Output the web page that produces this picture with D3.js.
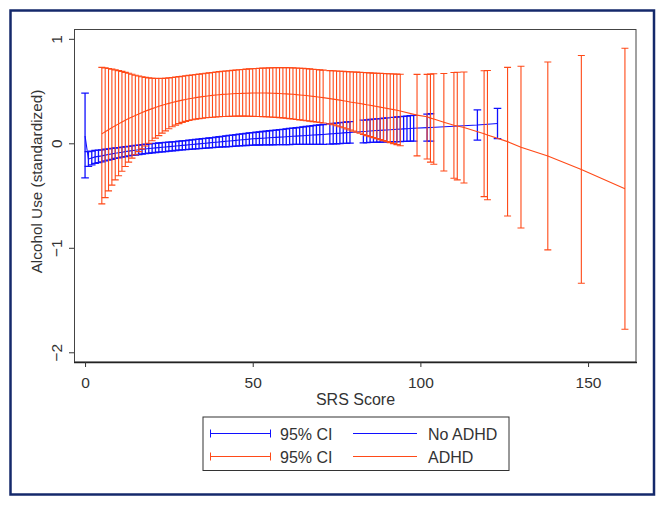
<!DOCTYPE html>
<html><head><meta charset="utf-8">
<script src="https://cdn.jsdelivr.net/npm/d3@7"></script>
<style>
html,body{margin:0;padding:0;background:#fff;}
svg{display:block;font-family:"Liberation Sans",Arial,sans-serif;}
</style></head>
<body>
<svg id="chart" width="664" height="506"></svg>
<script>
// ---------- data ----------
const blueX = [0,1,2,3,4,5,6,7,8,9,10,11,12,13,14,15,16,17,18,19,20,21,22,23,24,25,26,27,28,29,30,31,32,33,34,35,36,37,38,39,40,41,42,43,44,45,46,47,48,49,50,51,52,53,54,55,56,57,58,59,60,61,62,63,64,65,66,67,68,69,70,71,73,74,75,76,77,78,79,83,84,85,86,87,88,89,90,92,93,94,95,96,97,98,102,103,117,123];
const blueMean = [0.07,-0.150,-0.140,-0.130,-0.125,-0.120,-0.113,-0.107,-0.101,-0.095,-0.090,-0.085,-0.080,-0.075,-0.070,-0.066,-0.062,-0.058,-0.054,-0.050,-0.047,-0.044,-0.041,-0.038,-0.035,-0.032,-0.029,-0.026,-0.023,-0.020,-0.017,-0.014,-0.011,-0.008,-0.005,-0.002,0.001,0.004,0.007,0.010,0.013,0.016,0.019,0.022,0.025,0.028,0.031,0.034,0.037,0.040,0.043,0.045,0.047,0.049,0.051,0.053,0.055,0.057,0.059,0.061,0.063,0.065,0.067,0.069,0.071,0.073,0.075,0.077,0.079,0.081,0.083,0.085,0.090,0.092,0.095,0.097,0.100,0.102,0.104,0.113,0.115,0.118,0.120,0.122,0.124,0.126,0.128,0.132,0.134,0.136,0.138,0.140,0.142,0.144,0.150,0.152,0.175,0.190];
const blueLo = [-0.33,-0.220,-0.206,-0.193,-0.185,-0.178,-0.169,-0.161,-0.153,-0.145,-0.139,-0.133,-0.127,-0.121,-0.116,-0.112,-0.107,-0.103,-0.099,-0.095,-0.091,-0.088,-0.085,-0.082,-0.079,-0.075,-0.072,-0.069,-0.066,-0.063,-0.060,-0.058,-0.055,-0.053,-0.050,-0.048,-0.046,-0.043,-0.041,-0.039,-0.037,-0.035,-0.033,-0.031,-0.029,-0.027,-0.025,-0.023,-0.021,-0.019,-0.017,-0.016,-0.016,-0.015,-0.015,-0.014,-0.014,-0.013,-0.013,-0.012,-0.012,-0.012,-0.011,-0.011,-0.011,-0.011,-0.011,-0.011,-0.011,-0.011,-0.011,-0.010,-0.007,-0.006,-0.004,-0.003,-0.001,0.000,0.001,0.005,0.006,0.008,0.009,0.010,0.011,0.012,0.013,0.015,0.016,0.017,0.018,0.019,0.020,0.021,0.020,0.021,0.030,0.045];
const blueHi = [0.48,-0.080,-0.074,-0.067,-0.065,-0.062,-0.057,-0.053,-0.049,-0.045,-0.041,-0.037,-0.033,-0.029,-0.024,-0.020,-0.017,-0.013,-0.009,-0.005,-0.003,0.000,0.003,0.006,0.009,0.011,0.014,0.017,0.020,0.023,0.026,0.030,0.033,0.037,0.040,0.044,0.048,0.051,0.055,0.059,0.063,0.067,0.071,0.075,0.079,0.083,0.087,0.091,0.095,0.099,0.103,0.106,0.110,0.113,0.117,0.120,0.124,0.127,0.131,0.134,0.138,0.142,0.145,0.149,0.153,0.157,0.161,0.165,0.169,0.173,0.177,0.180,0.187,0.190,0.194,0.197,0.201,0.204,0.207,0.221,0.224,0.228,0.231,0.234,0.237,0.240,0.243,0.249,0.252,0.255,0.258,0.261,0.264,0.267,0.280,0.283,0.320,0.335];

const orangeX = [5,6,7,8,9,10,11,12,13,14,15,16,17,18,19,20,21,22,23,24,25,26,27,28,29,30,31,32,33,34,35,36,37,38,39,40,41,42,43,44,45,46,47,48,49,50,51,52,53,54,55,56,57,58,59,60,61,62,63,64,65,66,67,68,69,70,71,73,74,75,76,77,78,79,80,81,82,83,84,85,86,87,88,89,90,91,92,93,94,99,102,103,104,107,110,111,113,119,120,126,130,138,148,161];
const orangeMean = [0.090,0.110,0.130,0.150,0.168,0.186,0.204,0.221,0.237,0.252,0.267,0.281,0.295,0.308,0.320,0.332,0.343,0.354,0.364,0.373,0.382,0.391,0.399,0.406,0.413,0.420,0.426,0.432,0.437,0.442,0.447,0.451,0.455,0.459,0.462,0.465,0.468,0.470,0.472,0.474,0.476,0.477,0.478,0.479,0.480,0.481,0.481,0.481,0.481,0.481,0.480,0.479,0.478,0.477,0.475,0.473,0.471,0.469,0.466,0.463,0.460,0.457,0.453,0.449,0.445,0.441,0.437,0.428,0.423,0.418,0.413,0.408,0.402,0.396,0.391,0.386,0.381,0.375,0.369,0.364,0.358,0.352,0.346,0.340,0.334,0.328,0.322,0.316,0.310,0.270,0.255,0.241,0.232,0.202,0.172,0.165,0.151,0.092,0.079,0.016,-0.037,-0.121,-0.250,-0.435];
const orangeLo = [-0.580,-0.520,-0.455,-0.400,-0.350,-0.310,-0.268,-0.222,-0.180,-0.142,-0.110,-0.080,-0.053,-0.026,0.000,0.025,0.050,0.074,0.097,0.119,0.140,0.158,0.174,0.188,0.200,0.210,0.218,0.225,0.231,0.236,0.240,0.244,0.247,0.250,0.252,0.254,0.256,0.257,0.258,0.259,0.260,0.260,0.260,0.260,0.259,0.258,0.257,0.256,0.255,0.254,0.252,0.250,0.248,0.246,0.243,0.240,0.236,0.232,0.228,0.224,0.220,0.216,0.212,0.208,0.204,0.199,0.195,0.186,0.177,0.168,0.159,0.149,0.138,0.127,0.117,0.106,0.096,0.085,0.074,0.064,0.054,0.045,0.035,0.026,0.016,0.007,-0.003,-0.013,-0.023,-0.120,-0.150,-0.180,-0.200,-0.265,-0.335,-0.350,-0.380,-0.510,-0.540,-0.696,-0.810,-1.020,-1.340,-1.780];
const orangeHi = [0.727,0.722,0.716,0.710,0.703,0.696,0.688,0.679,0.670,0.661,0.652,0.644,0.637,0.631,0.626,0.623,0.621,0.620,0.621,0.623,0.626,0.630,0.634,0.638,0.642,0.646,0.650,0.654,0.658,0.662,0.666,0.670,0.674,0.678,0.682,0.686,0.689,0.692,0.695,0.698,0.701,0.704,0.707,0.710,0.712,0.714,0.716,0.718,0.720,0.721,0.722,0.723,0.724,0.724,0.724,0.724,0.723,0.722,0.721,0.719,0.717,0.715,0.712,0.709,0.706,0.703,0.700,0.696,0.694,0.692,0.690,0.688,0.686,0.685,0.683,0.681,0.679,0.677,0.675,0.674,0.672,0.671,0.669,0.668,0.666,0.665,0.664,0.662,0.661,0.660,0.660,0.662,0.665,0.668,0.678,0.680,0.682,0.695,0.697,0.727,0.737,0.778,0.840,0.910];

const xTicks = [0, 50, 100, 150];
const yTicks = [-2, -1, 0, 1];
const xTitle = "SRS Score";
const yTitle = "Alcohol Use (standardized)";
const legendLabels = ["95% CI", "No ADHD", "95% CI", "ADHD"];

// ---------- styling ----------
const BLUE = "#1010ff", ORANGE = "#ff4a18";
const svg = d3.select("#chart");

const x = d3.scaleLinear().domain([-3, 164.3]).range([75, 636]);
const y = d3.scaleLinear().domain([-2.093, 1.094]).range([362, 29]);

// outer frame
svg.append("rect").attr("x", 10.5).attr("y", 10.5).attr("width", 643.5).attr("height", 484)
  .attr("fill", "none").attr("stroke", "#14296b").attr("stroke-width", 2.5);

// plot region border
svg.append("rect").attr("x", 74.5).attr("y", 29.5).attr("width", 561.5).attr("height", 332.5)
  .attr("fill", "none").attr("stroke", "#444").attr("stroke-width", 1);
svg.append("line").attr("x1", 74).attr("x2", 637).attr("y1", 362.5).attr("y2", 362.5)
  .attr("stroke", "#222").attr("stroke-width", 1.6);

function rcap(g, xs, lo, hi, color, sw, cap) {
  const d = xs.map((v, i) => ({x: v, lo: lo[i], hi: hi[i]}));
  const grp = g.append("g").attr("stroke", color).attr("stroke-width", sw).attr("fill", "none");
  grp.selectAll("path").data(d).join("path")
    .attr("d", p => {
      const px = x(p.x), yl = y(p.lo), yh = y(p.hi);
      return `M${px},${yl}V${yh}M${px - cap},${yh}H${px + cap}M${px - cap},${yl}H${px + cap}`;
    });
}
function fitLine(g, xs, ys, color) {
  const line = d3.line().x(d => x(d[0])).y(d => y(d[1]));
  g.append("path").datum(xs.map((v, i) => [v, ys[i]]))
    .attr("d", line).attr("fill", "none").attr("stroke", color).attr("stroke-width", 1.1);
}

const plot = svg.append("g");
rcap(plot, blueX, blueLo, blueHi, BLUE, 1.3, 3.8);
fitLine(plot, blueX, blueMean, BLUE);
rcap(plot, orangeX, orangeLo, orangeHi, ORANGE, 1.1, 3.5);
fitLine(plot, orangeX, orangeMean, ORANGE);

// axes
const yAxis = svg.append("g").attr("transform", "translate(74,0)")
  .call(d3.axisLeft(y).tickValues(yTicks).tickSize(5).tickFormat(d3.format("d")));
yAxis.select(".domain").remove();
yAxis.selectAll("line").attr("stroke", "#333");
yAxis.selectAll("text")
  .attr("transform", "rotate(-90)").attr("x", 0).attr("y", -12.5).attr("dy", null)
  .attr("text-anchor", "middle").attr("fill", "#333")
  .style("font-size", "15.5px").style("font-family", "'Liberation Sans',Arial,sans-serif");

const xAxis = svg.append("g").attr("transform", "translate(0,362)")
  .call(d3.axisBottom(x).tickValues(xTicks).tickSize(5).tickFormat(d3.format("d")));
xAxis.select(".domain").remove();
xAxis.selectAll("line").attr("stroke", "#333");
xAxis.selectAll("text").attr("y", 26).attr("dy", null).attr("fill", "#333")
  .style("font-size", "15.5px").style("font-family", "'Liberation Sans',Arial,sans-serif");

svg.append("text").attr("x", 355.5).attr("y", 405).attr("text-anchor", "middle")
  .attr("fill", "#333").style("font-size", "16px").text(xTitle);
svg.append("text").attr("transform", "translate(41.5,181.5) rotate(-90)").attr("text-anchor", "middle")
  .attr("fill", "#333").style("font-size", "15.3px").text(yTitle);

// legend
const lg = svg.append("g");
lg.append("rect").attr("x", 203).attr("y", 417).attr("width", 306).attr("height", 53.5)
  .attr("fill", "#fff").attr("stroke", "#333").attr("stroke-width", 1);
const legendItems = [
  {label: legendLabels[0], color: BLUE, cap: true, col: 0, row: 0},
  {label: legendLabels[1], color: BLUE, cap: false, col: 1, row: 0},
  {label: legendLabels[2], color: ORANGE, cap: true, col: 0, row: 1},
  {label: legendLabels[3], color: ORANGE, cap: false, col: 1, row: 1}
];
const colX = [[210, 271, 280], [353, 417, 428]];
const rowY = [433.5, 456.5];
legendItems.forEach(it => {
  const [x1, x2, tx] = colX[it.col];
  const yy = rowY[it.row];
  const g = lg.append("g").attr("stroke", it.color).attr("stroke-width", 1);
  g.append("line").attr("x1", x1).attr("x2", x2).attr("y1", yy).attr("y2", yy);
  if (it.cap) {
    g.append("line").attr("x1", x1 + 0.5).attr("x2", x1 + 0.5).attr("y1", yy - 4).attr("y2", yy + 4);
    g.append("line").attr("x1", x2 - 0.5).attr("x2", x2 - 0.5).attr("y1", yy - 4).attr("y2", yy + 4);
  }
  lg.append("text").attr("x", tx).attr("y", yy + 6.5).attr("fill", "#333")
    .style("font-size", "16px").text(it.label);
});
</script>
</body></html>
